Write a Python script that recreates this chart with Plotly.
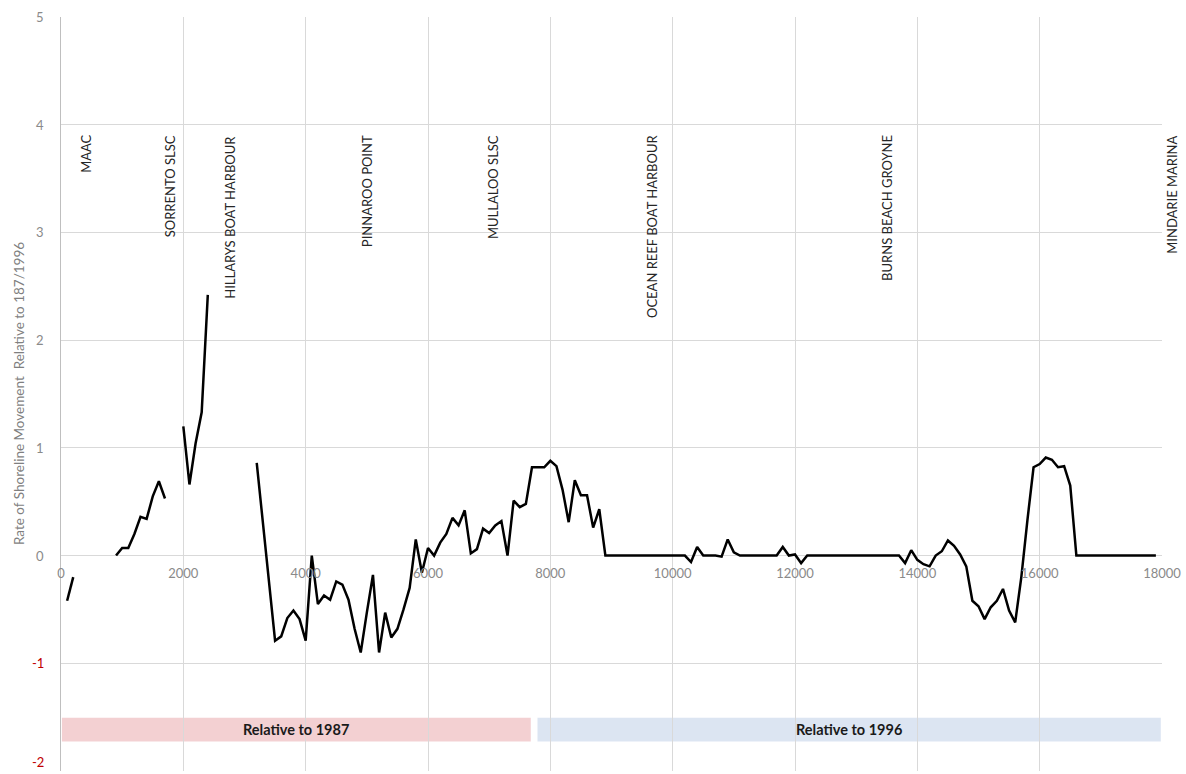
import plotly.graph_objects as go

# ---------------- data ----------------
distance_m = [
    100, 200, 300, 400, 500, 600, 700, 800, 900, 1000,
    1100, 1200, 1300, 1400, 1500, 1600, 1700, 1800, 1900, 2000,
    2100, 2200, 2300, 2400, 2500, 2600, 2700, 2800, 2900, 3000,
    3100, 3200, 3300, 3400, 3500, 3600, 3700, 3800, 3900, 4000,
    4100, 4200, 4300, 4400, 4500, 4600, 4700, 4800, 4900, 5000,
    5100, 5200, 5300, 5400, 5500, 5600, 5700, 5800, 5900, 6000,
    6100, 6200, 6300, 6400, 6500, 6600, 6700, 6800, 6900, 7000,
    7100, 7200, 7300, 7400, 7500, 7600, 7700, 7800, 7900, 8000,
    8100, 8200, 8300, 8400, 8500, 8600, 8700, 8800, 8900, 9000,
    9100, 9200, 9300, 9400, 9500, 9600, 9700, 9800, 9900, 10000,
    10100, 10200, 10300, 10400, 10500, 10600, 10700, 10800, 10900, 11000,
    11100, 11200, 11300, 11400, 11500, 11600, 11700, 11800, 11900, 12000,
    12100, 12200, 12300, 12400, 12500, 12600, 12700, 12800, 12900, 13000,
    13100, 13200, 13300, 13400, 13500, 13600, 13700, 13800, 13900, 14000,
    14100, 14200, 14300, 14400, 14500, 14600, 14700, 14800, 14900, 15000,
    15100, 15200, 15300, 15400, 15500, 15600, 15700, 15800, 15900, 16000,
    16100, 16200, 16300, 16400, 16500, 16600, 16700, 16800, 16900, 17000,
    17100, 17200, 17300, 17400, 17500, 17600, 17700, 17800, 17900,
]

rate = [
    -0.42, -0.20, None, None, None, None, None, None, 0.00, 0.07,
    0.07, 0.20, 0.36, 0.34, 0.55, 0.69, 0.53, None, None, 1.20,
    0.66, 1.04, 1.33, 2.42, None, None, None, None, None, None,
    None, 0.86, 0.33, -0.25, -0.79, -0.75, -0.58, -0.51, -0.59, -0.79,
    0.00, -0.45, -0.37, -0.41, -0.24, -0.27, -0.41, -0.68, -0.90, -0.53,
    -0.18, -0.90, -0.53, -0.76, -0.68, -0.50, -0.30, 0.15, -0.16, 0.07,
    0.00, 0.12, 0.20, 0.35, 0.28, 0.42, 0.02, 0.06, 0.25, 0.21,
    0.28, 0.32, 0.00, 0.51, 0.45, 0.48, 0.82, 0.82, 0.82, 0.88,
    0.83, 0.61, 0.31, 0.70, 0.56, 0.56, 0.26, 0.43, 0.00, 0.00,
    0.00, 0.00, 0.00, 0.00, 0.00, 0.00, 0.00, 0.00, 0.00, 0.00,
    0.00, 0.00, -0.06, 0.08, 0.00, 0.00, 0.00, -0.01, 0.15, 0.03,
    0.00, 0.00, 0.00, 0.00, 0.00, 0.00, 0.00, 0.08, 0.00, 0.01,
    -0.07, 0.00, 0.00, 0.00, 0.00, 0.00, 0.00, 0.00, 0.00, 0.00,
    0.00, 0.00, 0.00, 0.00, 0.00, 0.00, 0.00, -0.07, 0.05, -0.04,
    -0.08, -0.10, 0.00, 0.04, 0.14, 0.09, 0.01, -0.10, -0.42, -0.47,
    -0.59, -0.48, -0.42, -0.31, -0.51, -0.62, -0.20, 0.33, 0.82, 0.85,
    0.91, 0.89, 0.82, 0.83, 0.65, 0.00, 0.00, 0.00, 0.00, 0.00,
    0.00, 0.00, 0.00, 0.00, 0.00, 0.00, 0.00, 0.00, 0.00,
]

site_names = [
    "MAAC", "SORRENTO SLSC", "HILLARYS BOAT HARBOUR", "PINNAROO POINT",
    "MULLALOO SLSC", "OCEAN REEF BOAT HARBOUR", "BURNS BEACH GROYNE",
    "MINDARIE MARINA",
]
site_chainage = [417, 1781, 2761, 5016, 7075, 9665, 13513, 18170]

period_labels = ["Relative to 1987", "Relative to 1996"]
period_start = [15, 7790]
period_end = [7680, 17980]

x_tick_vals = [0, 2000, 4000, 6000, 8000, 10000, 12000, 14000, 16000, 18000]
x_tick_labels = ["0", "2000", "4000", "6000", "8000", "10000", "12000", "14000", "16000", "18000"]
y_tick_vals = [-2, -1, 0, 1, 2, 3, 4, 5]
y_tick_labels = ["-2", "-1", "0", "1", "2", "3", "4", "5"]

y_title = "Rate of Shoreline Movement  Relative to 187/1996"

# ---------------- styles ----------------
FONT = "Lato, 'Open Sans', sans-serif"
GRID = "#d9d9d9"
TICK_GRAY = "#8a8a8a"
NEG_RED = "#c00000"
band_colors = ["rgba(242,206,208,0.95)", "rgba(218,228,241,0.95)"]

fig = go.Figure()
fig.add_trace(go.Scatter(
    x=distance_m, y=rate, mode="lines",
    line=dict(color="black", width=2.5),
    connectgaps=False, showlegend=False, hoverinfo="x+y",
))

# period bands
band_y0, band_y1 = -1.505, -1.727
for lab, x0, x1, col in zip(period_labels, period_start, period_end, band_colors):
    fig.add_shape(type="rect", xref="x", yref="y", x0=x0, x1=x1, y0=band_y0, y1=band_y1,
                  fillcolor=col, line=dict(width=0), layer="below")
    fig.add_annotation(x=(x0 + x1) / 2, y=(band_y0 + band_y1) / 2, xref="x", yref="y",
                       text=f"<b>{lab}</b>", showarrow=False,
                       font=dict(family=FONT, size=14.5, color="#1a1a1a"))

# site labels (vertical)
x_max = x_tick_vals[-1]
for name, cx in zip(site_names, site_chainage):
    shift = 0
    xpos = cx
    if cx > x_max:
        # label placed beyond the right end of the axis
        shift = (cx - x_max) * 1101 / 18000
        xpos = x_max
    fig.add_annotation(x=xpos, y=3.92, xref="x", yref="y", text=name, showarrow=False,
                       textangle=-90, xanchor="center", yanchor="top", xshift=shift,
                       font=dict(family=FONT, size=13, color="#262626"))

# y tick labels (negative values in red); the lowest one is kept inside the page
y_min = y_tick_vals[0]
for v, t in zip(y_tick_vals, y_tick_labels):
    fig.add_annotation(x=0, y=v, xref="paper", yref="y", xshift=-15,
                       text=t, showarrow=False, xanchor="right",
                       yanchor="bottom" if v == y_min else "middle",
                       yshift=-1 if v == y_min else 0,
                       font=dict(family=FONT, size=13, color=NEG_RED if v < 0 else TICK_GRAY))

# y-axis title
fig.add_annotation(x=0, y=0.5, xref="paper", yref="paper", xshift=-42,
                   text=y_title, showarrow=False, textangle=-90,
                   xanchor="center", yanchor="middle",
                   font=dict(family=FONT, size=13.5, color="#7f7f7f"))

fig.update_layout(
    width=1186, height=774,
    margin=dict(l=61, r=24, t=17, b=3),
    paper_bgcolor="white", plot_bgcolor="white",
    font=dict(family=FONT, size=12, color=TICK_GRAY),
    xaxis=dict(
        range=[0, 18000], tickvals=x_tick_vals, ticktext=x_tick_labels,
        showgrid=True, gridcolor=GRID, gridwidth=1, zeroline=False,
        showline=False, ticks="", anchor="free", position=2 / 7,
        ticklabelstandoff=8,
        tickfont=dict(family=FONT, size=13, color=TICK_GRAY),
    ),
    yaxis=dict(
        range=[-2, 5], tickvals=y_tick_vals, showticklabels=False,
        showgrid=True, gridcolor=GRID, gridwidth=1, zeroline=False,
        showline=True, linecolor="#bfbfbf", linewidth=1, ticks="",
    ),
)

fig.write_html("out.html")
